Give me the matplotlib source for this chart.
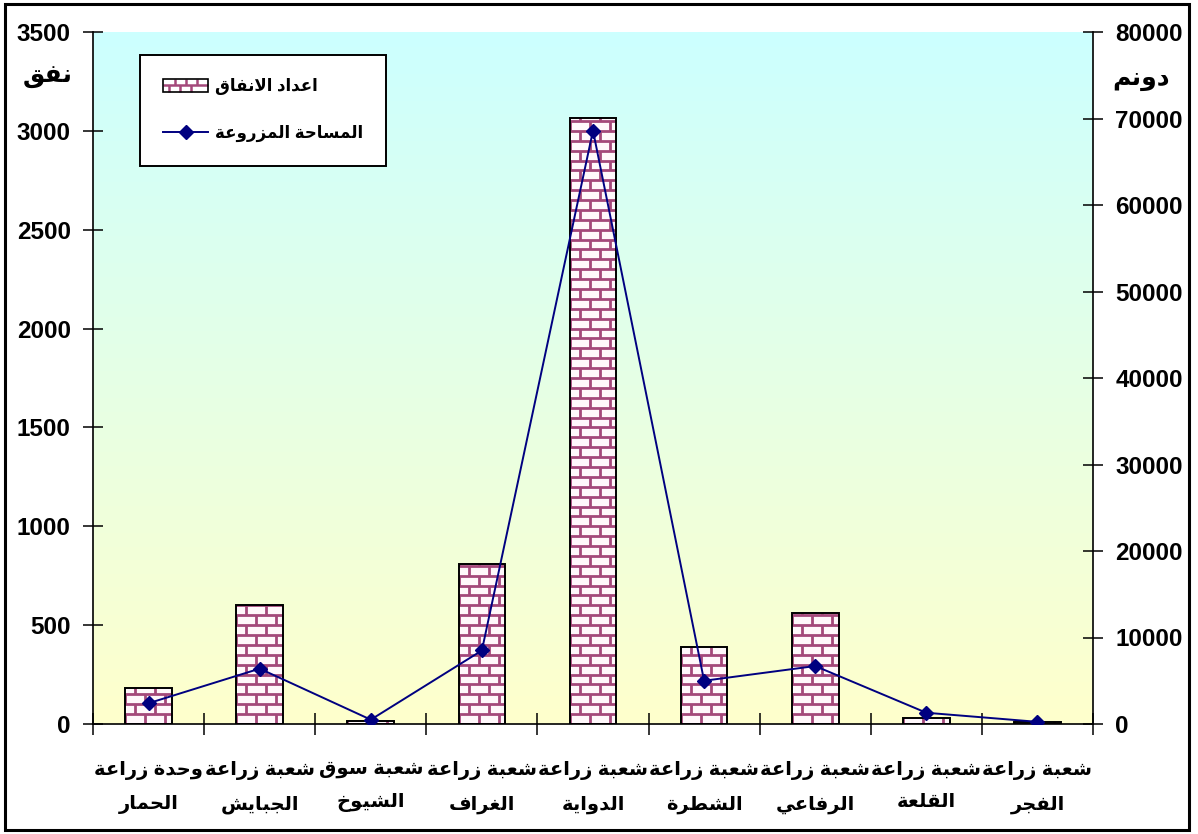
import matplotlib
matplotlib.use("Agg")
import matplotlib.pyplot as plt
import numpy as np
from matplotlib.patches import Rectangle
from matplotlib.collections import LineCollection
from matplotlib.legend_handler import HandlerBase
from matplotlib.lines import Line2D

# ---- data -------------------------------------------------------------
cat_line1 = ["وحدة زراعة", "شعبة زراعة", "شعبة سوق", "شعبة زراعة", "شعبة زراعة",
             "شعبة زراعة", "شعبة زراعة", "شعبة زراعة", "شعبة زراعة"]
cat_line2 = ["الحمار", "الجبايش", "الشيوخ", "الغراف", "الدواية",
             "الشطرة", "الرفاعي", "القلعة", "الفجر"]
tunnels = [180, 600, 15, 810, 3065, 390, 560, 30, 8]            # left axis
area_dunam = [2400, 6400, 500, 8500, 68600, 5000, 6700, 1300, 250]  # right axis
left_ticks = [0, 500, 1000, 1500, 2000, 2500, 3000, 3500]
right_ticks = [0, 10000, 20000, 30000, 40000, 50000, 60000, 70000, 80000]
bar_label = "اعداد الانفاق"
line_label = "المساحة المزروعة"
left_unit = "نفق"
right_unit = "دونم"

# ---- minimal Arabic shaping (presentation forms + right-to-left order) --
FORMS = {
    'ا': ('\ufe8d', '\ufe8e', None, None), 'ب': ('\ufe8f', '\ufe90', '\ufe91', '\ufe92'),
    'ة': ('\ufe93', '\ufe94', None, None), 'ت': ('\ufe95', '\ufe96', '\ufe97', '\ufe98'),
    'ج': ('\ufe9d', '\ufe9e', '\ufe9f', '\ufea0'), 'ح': ('\ufea1', '\ufea2', '\ufea3', '\ufea4'),
    'خ': ('\ufea5', '\ufea6', '\ufea7', '\ufea8'), 'د': ('\ufea9', '\ufeaa', None, None),
    'ر': ('\ufead', '\ufeae', None, None), 'ز': ('\ufeaf', '\ufeb0', None, None),
    'س': ('\ufeb1', '\ufeb2', '\ufeb3', '\ufeb4'), 'ش': ('\ufeb5', '\ufeb6', '\ufeb7', '\ufeb8'),
    'ط': ('\ufec1', '\ufec2', '\ufec3', '\ufec4'), 'ع': ('\ufec9', '\ufeca', '\ufecb', '\ufecc'),
    'غ': ('\ufecd', '\ufece', '\ufecf', '\ufed0'), 'ف': ('\ufed1', '\ufed2', '\ufed3', '\ufed4'),
    'ق': ('\ufed5', '\ufed6', '\ufed7', '\ufed8'), 'ل': ('\ufedd', '\ufede', '\ufedf', '\ufee0'),
    'م': ('\ufee1', '\ufee2', '\ufee3', '\ufee4'), 'ن': ('\ufee5', '\ufee6', '\ufee7', '\ufee8'),
    'ه': ('\ufee9', '\ufeea', '\ufeeb', '\ufeec'), 'و': ('\ufeed', '\ufeee', None, None),
    'ي': ('\ufef1', '\ufef2', '\ufef3', '\ufef4'),
}
LAM_ALEF = 'لا'


def shape(text):
    toks, i = [], 0
    while i < len(text):
        if text[i] == 'ل' and i + 1 < len(text) and text[i + 1] == 'ا':
            toks.append(LAM_ALEF)
            i += 2
        else:
            toks.append(text[i])
            i += 1

    def letter(t):
        return t in FORMS or t == LAM_ALEF

    def dual(t):
        return t in FORMS and FORMS[t][2] is not None

    out = []
    for k, t in enumerate(toks):
        prev = toks[k - 1] if k > 0 else None
        nxt = toks[k + 1] if k + 1 < len(toks) else None
        jp = prev is not None and dual(prev) and letter(t)
        jn = dual(t) and nxt is not None and letter(nxt)
        if t == LAM_ALEF:
            out.append('\ufefc' if jp else '\ufefb')
        elif t in FORMS:
            iso, fin, ini, med = FORMS[t]
            out.append(med if (jp and jn) else fin if jp else ini if jn else iso)
        else:
            out.append(t)
    return ''.join(reversed(out))


# ---- style ------------------------------------------------------------
FAM = ['Liberation Sans', 'DejaVu Sans']
plt.rcParams['font.family'] = FAM
plt.rcParams['font.weight'] = 'bold'
MORTAR = '#a4487a'
NAVY = '#000080'

W, H = 1198, 834
fig = plt.figure(figsize=(W / 100, H / 100), dpi=100)
fig.patch.set_facecolor('white')
ax = fig.add_axes([93 / W, 1 - 724 / H, (1093 - 93) / W, (724 - 32) / H])
ax2 = ax.twinx()

x = np.arange(len(tunnels))
bw = 0.42

# gradient plot area
grad = np.linspace(0, 1, 256)[:, None]
top = np.array([0.80, 1.0, 1.0])
bot = np.array([1.0, 1.0, 0.80])
img = top[None, None, :] * (1 - grad[:, :, None]) + bot[None, None, :] * grad[:, :, None]
ax.imshow(img, extent=[0, 1, 0, 1], transform=ax.transAxes, aspect='auto', zorder=0)

ax.set_xlim(-0.5, len(tunnels) - 0.5)
ax.set_ylim(0, 3500)
ax2.set_ylim(0, 80000)

# brick-patterned bars
brick_h = 50.0      # in left-axis units
brick_w = 0.18      # in category units
bars = ax.bar(x, tunnels, width=bw, color='#fff8fb', edgecolor='none', zorder=2)
for rect in bars:
    x0, w, h = rect.get_x(), rect.get_width(), rect.get_height()
    segs = []
    nrows = int(np.ceil(h / brick_h)) + 1
    for k in range(nrows):
        y0 = k * brick_h
        segs.append([(x0, y0), (x0 + w, y0)])
        off = (k % 2) * brick_w / 2
        xv = x0 + off
        while xv <= x0 + w:
            segs.append([(xv, y0), (xv, y0 + brick_h)])
            xv += brick_w
    lc = LineCollection(segs, colors=MORTAR, linewidths=2.0, zorder=3)
    ax.add_collection(lc)
    lc.set_clip_path(rect)
ax.bar(x, tunnels, width=bw, fill=False, edgecolor='black', linewidth=1.4, zorder=4)

# line on the secondary axis
ax2.plot(x, area_dunam, color=NAVY, lw=1.4, marker='D', ms=7.5, mfc=NAVY, mec=NAVY, zorder=5)

# axes styling
ax.set_zorder(1)
ax2.set_zorder(2)
ax2.patch.set_visible(False)
for a in (ax, ax2):
    a.spines['top'].set_visible(False)
    for s in ('left', 'right', 'bottom'):
        a.spines[s].set_linewidth(1.2)
ax.spines['right'].set_visible(False)
ax2.spines['left'].set_visible(False)
ax2.spines['bottom'].set_visible(False)

ax.set_yticks(left_ticks)
ax.set_yticklabels([str(v) for v in left_ticks])
ax2.set_yticks(right_ticks)
ax2.set_yticklabels([str(v) for v in right_ticks])
ax.tick_params(axis='y', direction='inout', length=14, width=1.1, labelsize=17.5, pad=9)
ax2.tick_params(axis='y', direction='inout', length=14, width=1.1, labelsize=17.5, pad=9)
for lab in ax.get_yticklabels() + ax2.get_yticklabels():
    lab.set_fontweight('bold')

ax.set_xticks(x)
ax.set_xticklabels([shape(a) + '\n' + shape(b) for a, b in zip(cat_line1, cat_line2)],
                   fontsize=14, fontweight='bold', linespacing=2.05)
ax.tick_params(axis='x', length=0, pad=27)
ax.set_xticks(np.arange(len(tunnels) + 1) - 0.5, minor=True)
ax.tick_params(axis='x', which='minor', direction='inout', length=16, width=1.1)

# unit captions
fig.text(48 / W, 1 - 76 / H, shape(left_unit), ha='center', va='center', fontsize=18, fontweight='bold')
fig.text(1141 / W, 1 - 79 / H, shape(right_unit), ha='center', va='center', fontsize=18, fontweight='bold')


# legend with a brick swatch
class BrickHandler(HandlerBase):
    def create_artists(self, legend, orig_handle, xd, yd, width, height, fontsize, trans):
        x0, y0 = -xd, -yd
        face = Rectangle((x0, y0), width, height, facecolor='white', edgecolor='none', transform=trans)
        segs = [[(x0, y0 + height / 2), (x0 + width, y0 + height / 2)]]
        n = 4
        for j in range(1, n):
            xv = x0 + width * j / n
            segs.append([(xv, y0 + height / 2), (xv, y0 + height)])
            xh = x0 + width * (j - 0.5) / n
            segs.append([(xh, y0), (xh, y0 + height / 2)])
        lc = LineCollection(segs, colors=MORTAR, linewidths=1.8, transform=trans)
        edge = Rectangle((x0, y0), width, height, facecolor='none', edgecolor='black', lw=1.2, transform=trans)
        return [face, lc, edge]


line_handle = Line2D([], [], color=NAVY, lw=1.4, marker='D', ms=7.5, mfc=NAVY, mec=NAVY)
leg = ax2.legend([bars, line_handle], [shape(bar_label), shape(line_label)],
                 handler_map={type(bars): BrickHandler()},
                 loc='upper left', bbox_to_anchor=(0.047, 0.967), fontsize=12,
                 frameon=True, fancybox=False, edgecolor='black', framealpha=1,
                 borderpad=1.4, labelspacing=1.8, handlelength=2.7, handleheight=0.9,
                 handletextpad=0.4, borderaxespad=0)
leg.get_frame().set_linewidth(1.4)
for t in leg.get_texts():
    t.set_fontweight('bold')

# outer frame
fig.add_artist(Rectangle((5 / W, 4 / H), (1189 - 5) / W, (H - 8) / H, transform=fig.transFigure,
                         fill=False, edgecolor='black', lw=2.2))

fig.savefig('out.png', dpi=100)
